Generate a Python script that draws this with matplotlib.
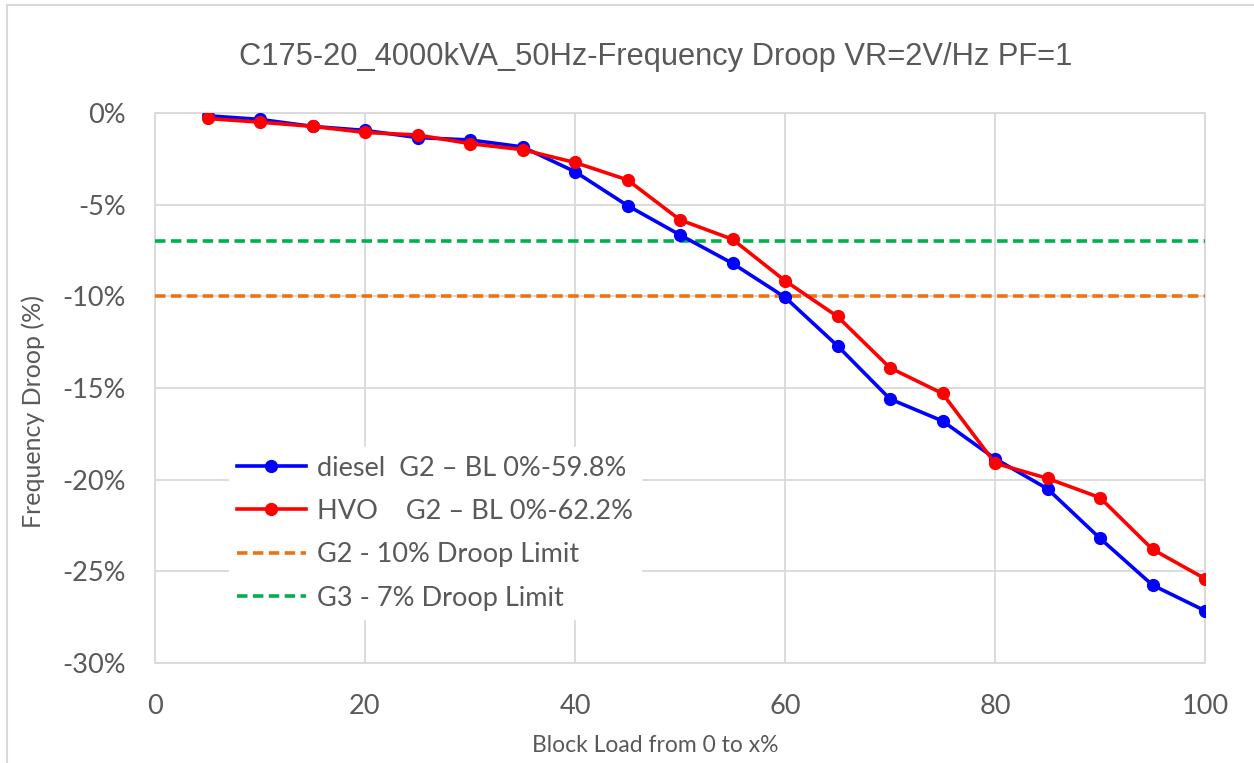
import numpy as np
import matplotlib
matplotlib.use("Agg")
import matplotlib.pyplot as plt
from matplotlib.lines import Line2D
from matplotlib.ticker import FuncFormatter

plt.rcParams['font.family'] = ['Lato', 'DejaVu Sans']

block_load = [5, 10, 15, 20, 25, 30, 35, 40, 45, 50,
              55, 60, 65, 70, 75, 80, 85, 90, 95, 100]
diesel = [-0.15, -0.35, -0.73, -0.95, -1.34, -1.47, -1.85, -3.2, -5.05, -6.65,
          -8.2, -10.05, -12.7, -15.6, -16.8, -18.85, -20.5, -23.2, -25.75, -27.15]
hvo = [-0.3, -0.5, -0.73, -1.06, -1.2, -1.67, -2.0, -2.7, -3.65, -5.83,
       -6.89, -9.15, -11.1, -13.9, -15.3, -19.1, -19.93, -20.98, -23.8, -25.4]
g2_limit = -10
g3_limit = -7

gray = '#595959'
W, H = 1254, 763

fig = plt.figure(figsize=(12.54, 7.63), dpi=100)
ax = fig.add_axes([155/W, 1 - 663/H, 1050/W, 550/H])

# chart area border (only top and left visible)
fig.add_artist(Line2D([7/W, 7/W, 1], [0, 1 - 5/H, 1 - 5/H],
                      transform=fig.transFigure, color='#D9D9D9', lw=1.5))

dash = (0, (2.9, 1.5))
ax.plot(block_load, diesel, color='#0000FF', lw=2.6, marker='o', ms=8.5,
        label='diesel  G2 \u2013 BL 0%-59.8%', zorder=4)
ax.plot(block_load, hvo, color='#FF0000', lw=2.6, marker='o', ms=8.5,
        label='HVO    G2 \u2013 BL 0%-62.2%', zorder=5)
ax.axhline(g2_limit, color='#E97316', lw=2.6, ls=dash,
           label='G2 - 10% Droop Limit', zorder=3)
ax.axhline(g3_limit, color='#00B050', lw=2.6, ls=dash,
           label='G3 - 7% Droop Limit', zorder=3)

ax.set_xlim(0, 100)
ax.set_ylim(-30, 0)
ax.set_xticks(range(0, 101, 20))
ax.set_yticks(range(-30, 1, 5))
ax.yaxis.set_major_formatter(FuncFormatter(lambda v, p: '%d%%' % v))
ax.grid(True, color='#D9D9D9', lw=1.3, zorder=0)
ax.set_axisbelow(True)
for s in ax.spines.values():
    s.set_color('#D9D9D9')
    s.set_linewidth(1.3)
ax.tick_params(length=0, labelsize=19.5, colors=gray)
ax.tick_params(axis='x', pad=22)
ax.tick_params(axis='y', pad=21)

fig.text(656/W, 1 - 57/H, 'C175-20_4000kVA_50Hz-Frequency Droop VR=2V/Hz PF=1',
         fontsize=22.2, color=gray, ha='center', va='center',
         family=['Liberation Sans', 'DejaVu Sans'])
fig.text(655/W, 1 - 745/H, 'Block Load from 0 to x%', fontsize=16.5, color=gray,
         ha='center', va='center')
fig.text(33/W, 1 - 412/H, 'Frequency Droop (%)', fontsize=18, color=gray,
         ha='center', va='center', rotation=90)

leg = ax.legend(loc='upper left', bbox_to_anchor=(0.07, 0.392), frameon=True,
                fontsize=19.5, handlelength=2.55, handletextpad=0.4,
                labelspacing=0.68, borderaxespad=0, borderpad=0.3,
                facecolor='white', edgecolor='white',
                framealpha=1, fancybox=False)
for t in leg.get_texts():
    t.set_color(gray)

fig.savefig('out.png', dpi=100)
